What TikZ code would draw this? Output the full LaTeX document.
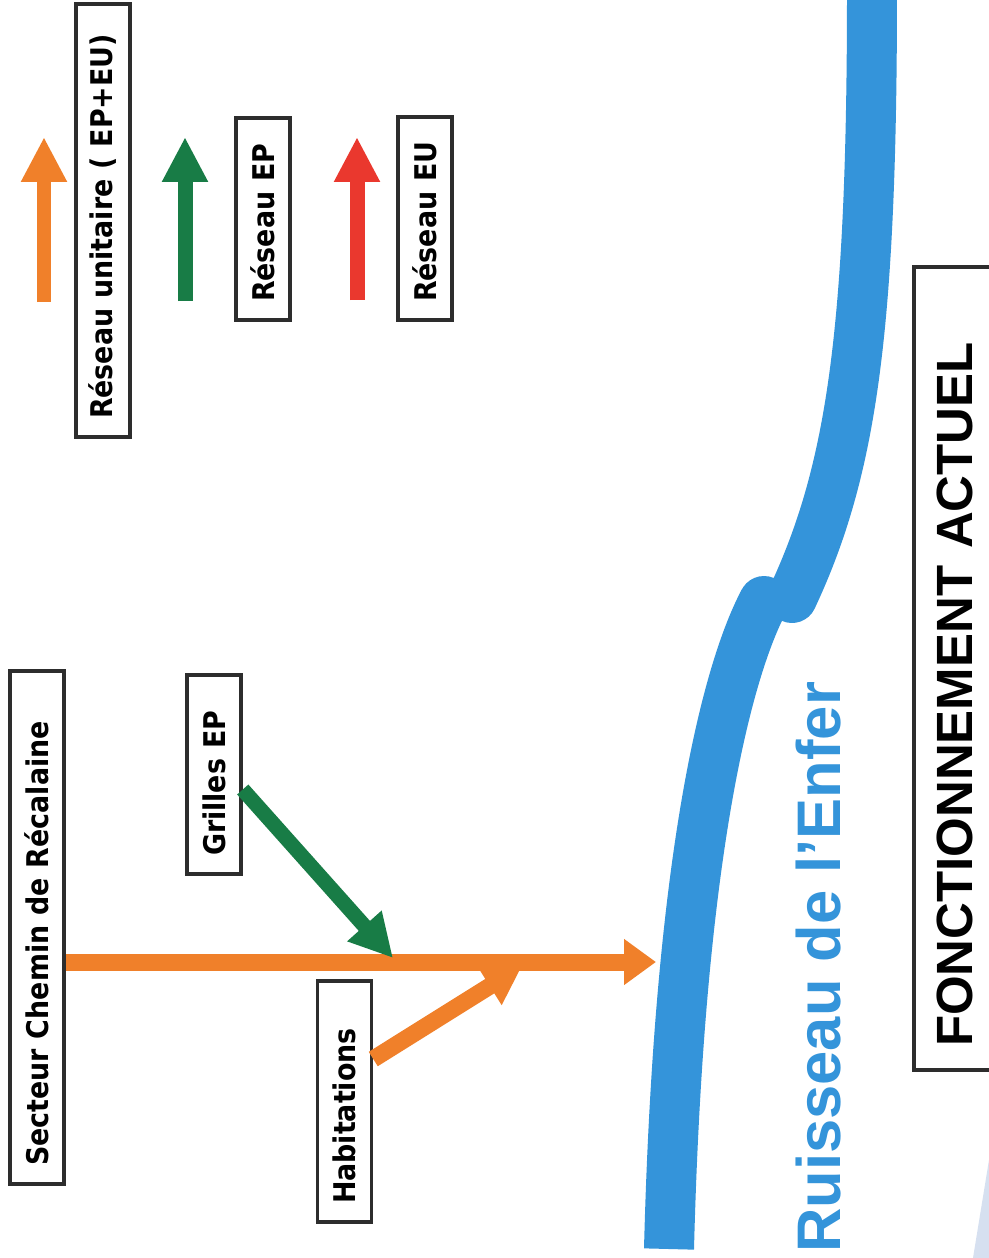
\documentclass[tikz,border=0pt]{standalone}
\usepackage{fontspec}
\setmainfont{Liberation Sans}
\newfontfamily\etiqfont[FakeStretch=0.9]{DejaVu Sans}
\usetikzlibrary{arrows.meta}
\definecolor{orangeflux}{RGB}{240,128,42}
\definecolor{vertflux}{RGB}{24,124,70}
\definecolor{rougeflux}{RGB}{234,56,46}
\definecolor{bleuriviere}{RGB}{52,148,218}
\definecolor{bleupale}{RGB}{214,224,240}
\definecolor{grisboite}{RGB}{45,45,45}
\tikzset{
	boite/.style={draw=grisboite, line width=2pt, fill=white, rotate=90, inner xsep=0.36cm, inner ysep=0pt, minimum height=1.08cm, align=left, font=\etiqfont\bfseries\fontsize{17}{20}\selectfont},
	legende/.style={line width=0.3cm, -{Triangle[length=0.9cm, width=0.86cm]}},
	flux/.style={line width=0.34cm, color=orangeflux},
	riviere/.style={line width=1cm, color=bleuriviere},
}

\begin{document}
\begin{tikzpicture}[x=0.02cm, y=-0.02cm]
		%%%%% START %%%%%
		\useasboundingbox (0, 0) rectangle (989, 1258);
		\fill[white] (0, 0) rectangle (989, 1258);
		
		% ruisseau
		\coordinate (amont) at (872, -10);
		\coordinate (coude_haut) at (792, 598);
		\coordinate (coude_bas) at (764, 601);
		\coordinate (aval) at (669, 1249);
		\draw[riviere, line cap=round] (amont) .. controls (872, 330) and (852, 470) .. (coude_haut);
		\draw[riviere] (coude_bas) .. controls (735, 655) and (680, 820) .. (aval);
		\fill[bleuriviere] (coude_bas) circle (0.5cm);
		\fill[bleupale] (989, 1160) -- (973, 1258) -- (989, 1258) -- cycle;
		
		\node[anchor=base west, rotate=90, inner sep=0pt, text=bleuriviere, font=\bfseries\fontsize{35}{40}\selectfont] (ruisseau) at (840, 1253) {Ruisseau de l’Enfer};
		
		% legende
		\coordinate (leg_unit_bas) at (44, 302);
		\coordinate (leg_unit_haut) at (44, 137);
		\coordinate (leg_ep_bas) at (185, 301);
		\coordinate (leg_ep_haut) at (185, 137);
		\coordinate (leg_eu_bas) at (357, 300);
		\coordinate (leg_eu_haut) at (357, 137);
		\draw[legende, color=orangeflux] (leg_unit_bas) -- (leg_unit_haut);
		\draw[legende, color=vertflux] (leg_ep_bas) -- (leg_ep_haut);
		\draw[legende, color=rougeflux] (leg_eu_bas) -- (leg_eu_haut);
		
		\node[boite, text width=7.94cm] (leg_unit) at (103, 220.5) {Réseau unitaire ( EP+EU)};
		\node[boite, text width=3.32cm] (leg_ep) at (263, 219) {Réseau EP};
		\node[boite, text width=3.34cm] (leg_eu) at (425, 218.5) {Réseau EU};
		
		% reseau
		\coordinate (rejet) at (656, 962);
		\coordinate (jonction_ep) at (393, 958);
		\coordinate (jonction_hab) at (522, 966);
		
		\node[boite, text width=9.54cm] (secteur) at (37, 927.5) {Secteur Chemin de Récalaine};
		\node[boite, text width=3.26cm] (grilles) at (214, 774.5) {Grilles EP};
		\node[boite, text width=4.1cm] (habitations) at (344.5, 1101.5) {Habitations};
		
		\draw[flux, -{Triangle[length=0.64cm, width=0.88cm]}] (secteur.south |- rejet) -- (rejet);
		\draw[flux, -{Triangle[length=0.76cm, width=0.84cm]}] ([yshift=0.85cm]habitations.south) -- (jonction_hab);
		\draw[line width=0.3cm, color=vertflux, -{Triangle[length=0.86cm, width=0.86cm]}] ([yshift=-0.3cm]grilles.south) -- (jonction_ep);
		
		\node[boite, line width=1.9pt, text width=15.14cm, inner xsep=0.46cm, minimum height=1.64cm, font=\bfseries\fontsize{29}{34}\selectfont] (titre) at (955, 668.5) {FONCTIONNEMENT ACTUEL};
		
		%%%%% END %%%%%
\end{tikzpicture}
\end{document}
